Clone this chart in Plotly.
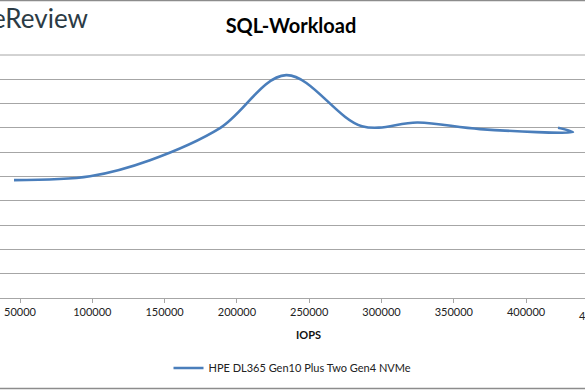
import plotly.graph_objects as go

iops = [45850, 98400, 139900, 188300, 234000, 286500, 325200, 368100, 432400, 422100]
latency_ms = [0.485, 0.501, 0.567, 0.699, 0.917, 0.707, 0.722, 0.695, 0.683, 0.701]
series_name = "HPE DL365 Gen10 Plus Two Gen4 NVMe"
x_ticks = [50000, 100000, 150000, 200000, 250000, 300000, 350000, 400000, 450000]

FONT = "Lato, 'Open Sans', 'DejaVu Sans', sans-serif"
GRID = "#a6a6a6"
TICKFONT = dict(family=FONT, size=11, color="#222222")

fig = go.Figure()
fig.add_trace(go.Scatter(
    x=iops, y=latency_ms, mode="lines", name=series_name,
    line=dict(color="#4a7ebb", width=2.6, shape="spline", smoothing=1.0),
    showlegend=True,
))

x_min, x_max = 36170, 440730
# tick labels that fall just past the visible range (partly cropped in the reference)
extra_ticks = [t for t in x_ticks if t > x_max]

annotations = [
    dict(text="StorageReview", xref="paper", yref="paper",
         x=90 / 585, y=(297.7 - 18) / 242.7, xanchor="right", yanchor="middle",
         showarrow=False, font=dict(family=FONT, size=26, color="#2b3b45")),
    dict(text="<b>IOPS</b>", xref="paper", yref="paper",
         x=308 / 585, y=(297.7 - 334) / 242.7, xanchor="center", yanchor="middle",
         showarrow=False, font=dict(family=FONT, size=11, color="#111111")),
]
for t in extra_ticks:
    annotations.append(dict(text=f"{t:d}", xref="paper", yref="paper",
                            x=(t - x_min) / (x_max - x_min), y=(297.7 - 315) / 242.7,
                            xanchor="center", yanchor="middle",
                            showarrow=False, font=TICKFONT))

fig.update_layout(
    width=585, height=390,
    margin=dict(l=0, r=0, t=55, b=92, autoexpand=False),
    paper_bgcolor="white", plot_bgcolor="white",
    title=dict(text="<b>SQL-Workload</b>", x=291 / 585, xanchor="center",
               y=1 - 26 / 390, yanchor="middle", automargin=False,
               font=dict(family=FONT, size=20, color="#000000")),
    showlegend=True,
    legend=dict(orientation="h", x=0.5, xanchor="center",
                yref="container", y=1 - 368 / 390, yanchor="middle",
                font=dict(family=FONT, size=11, color="#222222"),
                bgcolor="rgba(0,0,0,0)"),
    xaxis=dict(range=[x_min, x_max], tickvals=x_ticks, tickformat="d",
               automargin=False,
               showgrid=False, zeroline=False,
               showline=True, linecolor=GRID, linewidth=1,
               ticks="outside", ticklen=4, tickcolor=GRID,
               tickfont=TICKFONT),
    yaxis=dict(range=[0, 1.0], dtick=0.1, showticklabels=False, automargin=False,
               showgrid=True, gridcolor=GRID, gridwidth=1,
               zeroline=False, showline=False),
    annotations=annotations,
    shapes=[
        dict(type="line", xref="paper", yref="paper", x0=-0.05, x1=1.05,
             y0=(297.7 - 0.5) / 242.7, y1=(297.7 - 0.5) / 242.7,
             line=dict(color="#8c8c8c", width=1.5)),
        dict(type="line", xref="paper", yref="paper", x0=-0.05, x1=1.05,
             y0=(297.7 - 388) / 242.7, y1=(297.7 - 388) / 242.7,
             line=dict(color="#8c8c8c", width=1.5)),
        dict(type="line", xref="paper", yref="paper", x0=-0.05, x1=1.05,
             y0=1, y1=1, line=dict(color=GRID, width=1)),
    ],
)

fig.write_html("out.html", config={"displayModeBar": False},
               post_script="document.body.style.margin='0';document.body.style.overflow='hidden';")
